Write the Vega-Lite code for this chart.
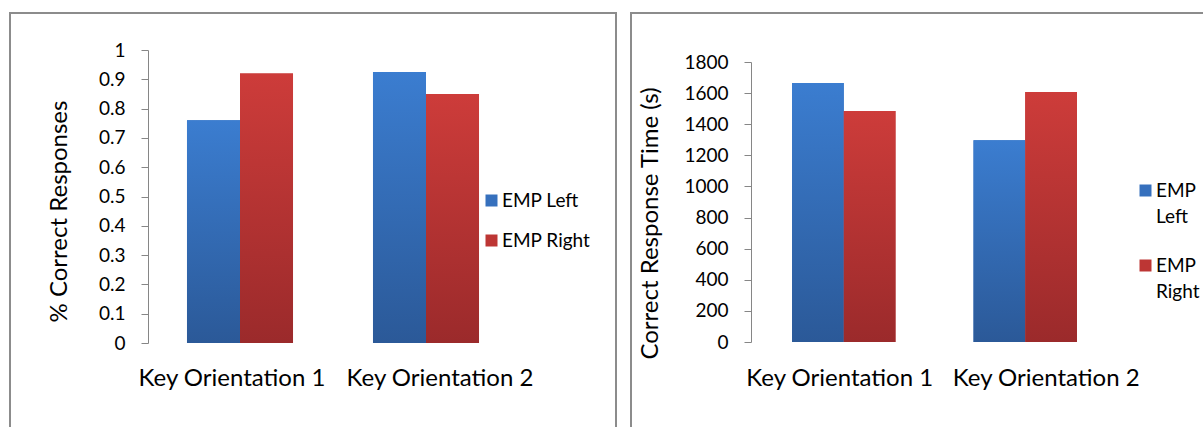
{
  "$schema": "https://vega.github.io/schema/vega-lite/v6.json",
  "background": "white",
  "padding": {"left": 9, "top": 12, "right": 0, "bottom": 0},
  "config": {
    "view": {"stroke": "#8c8c8c", "strokeWidth": 2},
    "font": "Lato",
    "concat": {"spacing": 13},
    "axis": {"labelColor": "black", "titleColor": "black", "domainColor": "#868686", "tickColor": "#868686", "grid": false, "titleFontWeight": "normal"},
    "legend": {"labelColor": "black"},
    "style": {"guide-label": {"lineHeight": 26}}
  },
  "datasets": {
    "acc": [
      {"orient": "Key Orientation 1", "side": "EMP Left", "value": 0.76},
      {"orient": "Key Orientation 1", "side": "EMP Right", "value": 0.92},
      {"orient": "Key Orientation 2", "side": "EMP Left", "value": 0.925},
      {"orient": "Key Orientation 2", "side": "EMP Right", "value": 0.85}
    ],
    "rt": [
      {"orient": "Key Orientation 1", "side": "EMP Left", "value": 1665},
      {"orient": "Key Orientation 1", "side": "EMP Right", "value": 1485},
      {"orient": "Key Orientation 2", "side": "EMP Left", "value": 1297},
      {"orient": "Key Orientation 2", "side": "EMP Right", "value": 1607}
    ]
  },
  "hconcat": [
    {
      "width": 606,
      "height": 418,
      "data": {"name": "acc"},
      "encoding": {
        "x": {"field": "orient", "type": "nominal", "title": null,
          "scale": {"range": [137, 509], "paddingInner": 0.43, "paddingOuter": 0.215},
          "axis": {"orient": "bottom", "offset": -88, "domain": false, "ticks": false, "labelFontSize": 24, "labelPadding": 23, "labelAngle": 0, "labelLimit": 400, "labelOverlap": false,
            "labelOffset": {"condition": {"test": "datum.value === 'Key Orientation 1'", "value": -8}, "value": 14}}},
        "xOffset": {"field": "side", "type": "nominal", "sort": ["EMP Left", "EMP Right"], "scale": {"paddingInner": 0, "paddingOuter": 0}},
        "y": {"field": "value", "type": "quantitative",
          "scale": {"domain": [0, 1], "range": [330, 37]},
          "axis": {"values": [0, 0.1, 0.2, 0.3, 0.4, 0.5, 0.6, 0.7, 0.8, 0.9, 1], "format": "~g", "offset": -138, "tickSize": 7, "labelPadding": 16, "labelFontSize": 19,
            "title": "% Correct Responses", "titleFontSize": 24, "titleX": -89, "titleY": 198, "titleAlign": "center", "titleBaseline": "middle", "titleAngle": -90}}
      },
      "layer": [
        {
          "mark": {"type": "bar"},
          "encoding": {
            "color": {"field": "side", "type": "nominal",
              "scale": {"domain": ["EMP Left", "EMP Right"], "range": ["#3670bd", "#bd3634"]},
              "legend": {"orient": "none", "legendX": 472, "legendY": 178, "title": null, "symbolType": "square", "symbolSize": 144, "labelFontSize": 19, "rowPadding": 20, "labelOffset": 1, "symbolStrokeWidth": 0}}
          }
        },
        {
          "mark": {"type": "bar"},
          "encoding": {
            "fill": {
              "condition": {"test": "datum.side === 'EMP Left'", "value": {"gradient": "linear", "x1": 0, "y1": 0, "x2": 0, "y2": 1, "stops": [{"offset": 0, "color": "#3b7dd0"}, {"offset": 1, "color": "#2b5998"}]}},
              "value": {"gradient": "linear", "x1": 0, "y1": 0, "x2": 0, "y2": 1, "stops": [{"offset": 0, "color": "#cd3c3a"}, {"offset": 1, "color": "#9b2a2b"}]}
            }
          }
        }
      ]
    },
    {
      "width": 577,
      "height": 418,
      "data": {"name": "rt"},
      "encoding": {
        "x": {"field": "orient", "type": "nominal", "title": null,
          "scale": {"range": [122, 485], "paddingInner": 0.43, "paddingOuter": 0.215},
          "axis": {"orient": "bottom", "offset": -89, "domain": false, "ticks": false, "labelFontSize": 24, "labelPadding": 24, "labelAngle": 0, "labelLimit": 400, "labelOverlap": false,
            "labelOffset": {"condition": {"test": "datum.value === 'Key Orientation 1'", "value": -4}, "value": 21}}},
        "xOffset": {"field": "side", "type": "nominal", "sort": ["EMP Left", "EMP Right"], "scale": {"paddingInner": 0, "paddingOuter": 0}},
        "y": {"field": "value", "type": "quantitative",
          "scale": {"domain": [0, 1800], "range": [329, 49]},
          "axis": {"values": [0, 200, 400, 600, 800, 1000, 1200, 1400, 1600, 1800], "format": "d", "offset": -120, "tickSize": 7, "labelPadding": 16, "labelFontSize": 19,
            "title": "Correct Response Time (s)", "titleFontSize": 24, "titleX": -101, "titleY": 210, "titleAlign": "center", "titleBaseline": "middle", "titleAngle": -90}}
      },
      "layer": [
        {
          "mark": {"type": "bar"},
          "encoding": {
            "color": {"field": "side", "type": "nominal",
              "scale": {"domain": ["EMP Left", "EMP Right"], "range": ["#3670bd", "#bd3634"]},
              "legend": {"orient": "none", "legendX": 505, "legendY": 168, "title": null, "symbolType": "square", "symbolSize": 144, "labelFontSize": 19, "rowPadding": 29, "labelOffset": 1, "symbolStrokeWidth": 0, "labelExpr": "split(datum.label, ' ')"}}
          }
        },
        {
          "mark": {"type": "bar"},
          "encoding": {
            "fill": {
              "condition": {"test": "datum.side === 'EMP Left'", "value": {"gradient": "linear", "x1": 0, "y1": 0, "x2": 0, "y2": 1, "stops": [{"offset": 0, "color": "#3b7dd0"}, {"offset": 1, "color": "#2b5998"}]}},
              "value": {"gradient": "linear", "x1": 0, "y1": 0, "x2": 0, "y2": 1, "stops": [{"offset": 0, "color": "#cd3c3a"}, {"offset": 1, "color": "#9b2a2b"}]}
            }
          }
        }
      ]
    }
  ],
  "resolve": {"scale": {"color": "independent", "x": "independent", "y": "independent", "xOffset": "independent"}, "legend": {"color": "independent"}}
}
